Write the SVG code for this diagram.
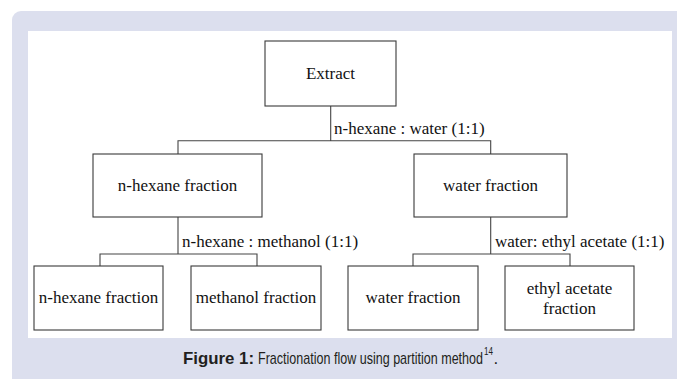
<svg xmlns="http://www.w3.org/2000/svg" width="677" height="379" viewBox="0 0 677 379">
<style>
.box{fill:#fff;stroke:#3a3a3a;stroke-width:1.1}
.ln{fill:none;stroke:#444;stroke-width:1.1}
.t{font-family:"Liberation Serif","Times New Roman",serif;font-size:17px;fill:#111}
.c{text-anchor:middle}
.cap{font-family:"Liberation Sans",Arial,sans-serif;font-size:17px;fill:#231f20}
.sup{font-family:"Liberation Sans",Arial,sans-serif;font-size:10px;fill:#231f20}
</style>
<rect x="12" y="11" width="690" height="400" rx="9" fill="#dcdfee"/>
<rect x="28" y="31" width="644" height="307" fill="#fff"/>
<g id="connectors">
<path class="ln" d="M330.7 106V140.7M178 154V140.7H490.7V154"/>
<path class="ln" d="M178 217V254H100V266M178 254H257V266"/>
<path class="ln" d="M490.7 217V254H413V266M490.7 254H570V266"/>
<text class="t" x="334" y="134">n-hexane : water (1:1)</text>
<text class="t" x="182" y="247">n-hexane : methanol (1:1)</text>
<text class="t" x="495" y="247">water: ethyl acetate (1:1)</text>
</g>
<g id="extract"><rect class="box" x="265" y="41" width="131" height="65"/><text class="t c" x="330.5" y="79">Extract</text></g>
<g id="hexane1"><rect class="box" x="93" y="154" width="169" height="63"/><text class="t c" x="177.5" y="191">n-hexane fraction</text></g>
<g id="water1"><rect class="box" x="414" y="154" width="153" height="63"/><text class="t c" x="490.5" y="191">water fraction</text></g>
<g id="hexane2"><rect class="box" x="34" y="266" width="129" height="64"/><text class="t c" x="98.5" y="303">n-hexane fraction</text></g>
<g id="methanol"><rect class="box" x="191" y="266" width="130" height="64"/><text class="t c" x="256" y="303">methanol fraction</text></g>
<g id="water2"><rect class="box" x="348" y="266" width="130" height="64"/><text class="t c" x="413" y="303">water fraction</text></g>
<g id="ethyl"><rect class="box" x="505" y="266" width="129" height="64"/><text class="t c" x="569.5" y="294">ethyl acetate</text><text class="t c" x="569.5" y="314">fraction</text></g>
<g id="caption">
<text class="cap" x="183" y="364" font-weight="bold" textLength="71" lengthAdjust="spacingAndGlyphs">Figure 1:</text>
<text class="cap" x="258" y="364" textLength="225" lengthAdjust="spacingAndGlyphs">Fractionation flow using partition method</text>
<text class="sup" x="484" y="355" textLength="9" lengthAdjust="spacingAndGlyphs">14</text>
<text class="cap" x="493.5" y="364">.</text>
</g>
</svg>
